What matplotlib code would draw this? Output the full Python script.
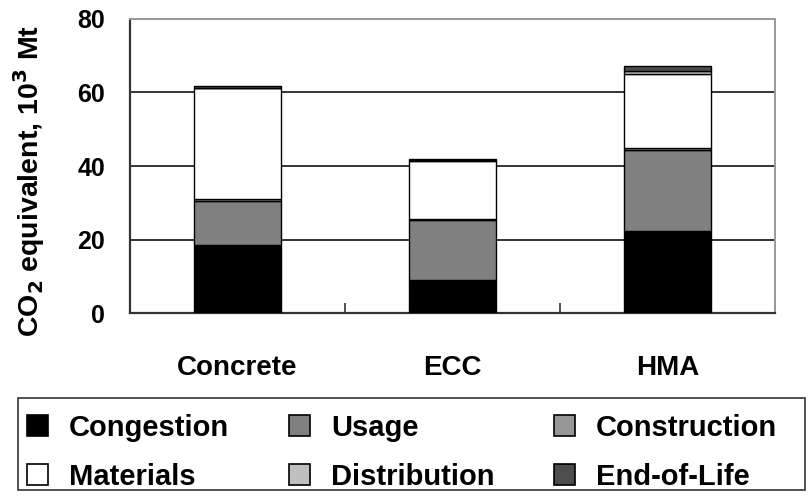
import numpy as np
import matplotlib.pyplot as plt
from matplotlib.patches import Patch, Rectangle

plt.rcParams['font.family'] = ['Liberation Sans', 'DejaVu Sans']
plt.rcParams['font.weight'] = 'bold'
plt.rcParams['axes.labelweight'] = 'bold'

# CO2 equivalent by life-cycle phase, 10^3 Mt
pavements = ['Concrete', 'ECC', 'HMA']
phases = ['Congestion', 'Usage', 'Construction',
          'Materials', 'Distribution', 'End-of-Life']
congestion = [18.6, 9.0, 22.2]
usage = [12.0, 16.2, 22.2]
construction = [0.5, 0.3, 0.4]
materials = [30.0, 15.9, 20.3]
distribution = [0.2, 0.2, 0.8]
end_of_life = [0.5, 0.4, 1.2]

values = [congestion, usage, construction, materials, distribution, end_of_life]
colors = ['#000000', '#808080', '#969696', '#ffffff', '#c0c0c0', '#4d4d4d']

fig = plt.figure(figsize=(8.12, 4.98), dpi=100)
ax = fig.add_axes([130/812, 1 - 313/498, 645/812, 294/498])

x = np.arange(len(pavements))
bottom = np.zeros(len(pavements))
for vals, col, name in zip(values, colors, phases):
    ax.bar(x, vals, 0.405, bottom=bottom, color=col, edgecolor='black',
           linewidth=1.0, label=name, zorder=3)
    bottom += np.array(vals)

ax.set_xlim(-0.5, 2.5)
ax.set_ylim(0, 80)
ax.set_yticks([0, 20, 40, 60, 80])
ax.yaxis.grid(True, color='#111111', linewidth=1.2, zorder=0)
ax.tick_params(axis='y', length=0, pad=18, labelsize=18)

# category boundaries as ticks, names centred between them
ax.set_xticks([0.5, 1.5, 2.5])
ax.set_xticklabels([])
ax.tick_params(axis='x', which='major', direction='in', length=7,
               width=1.2, color='#333333')
ax.set_xticks(x, minor=True)
ax.set_xticklabels(pavements, minor=True, fontsize=20)
ax.tick_params(axis='x', which='minor', length=0, pad=30)

for side in ['left', 'bottom']:
    ax.spines[side].set_color('#333333')
    ax.spines[side].set_linewidth(1.6)
for side in ['top', 'right']:
    ax.spines[side].set_color('#999999')
    ax.spines[side].set_linewidth(1.4)

ax.set_ylabel('CO$_\\mathbf{2}$ equivalent, 10$^\\mathbf{3}$ Mt',
              fontsize=20.5, fontweight='bold')
ax.yaxis.set_label_coords(-83/645, 0.45)

# legend in a separate box below the plot
fig.patches.append(Rectangle((18/812, 1 - 490/498), 787/812, 92/498,
                             transform=fig.transFigure, fill=False,
                             edgecolor='#333333', linewidth=1.2))
handles = [Patch(facecolor=c, edgecolor='black', linewidth=1.2, label=n)
           for c, n in zip(colors, phases)]
order = [0, 3, 1, 4, 2, 5]
fig.legend([handles[i] for i in order], [phases[i] for i in order],
           ncol=3, loc='center left', bbox_to_anchor=(27/812, 1 - 452/498),
           frameon=False, fontsize=21, handlelength=0.72, handleheight=0.72,
           handletextpad=0.72, columnspacing=2.05, labelspacing=0.72,
           borderpad=0, borderaxespad=0)

fig.savefig('out.png', dpi=100)
